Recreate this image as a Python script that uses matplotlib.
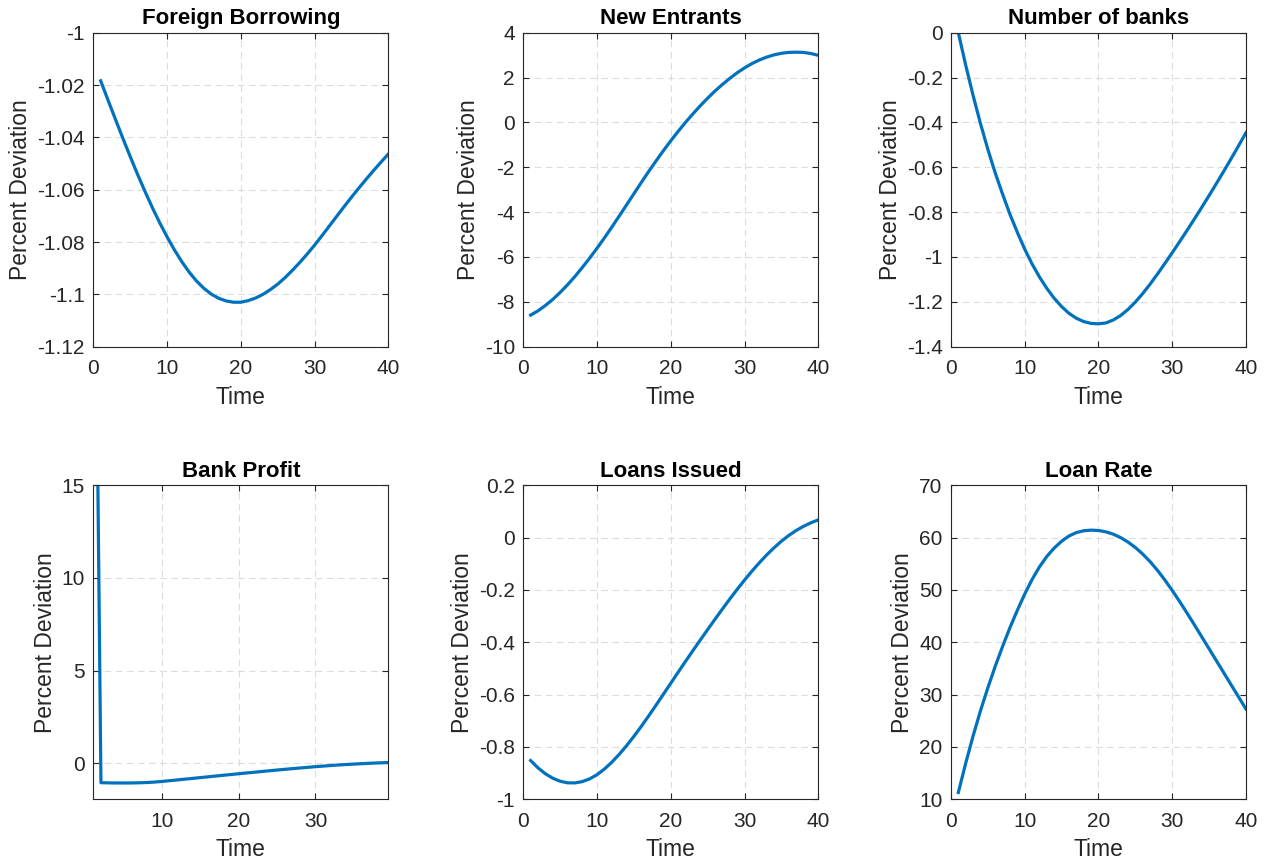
import matplotlib
matplotlib.use("Agg")
import matplotlib.pyplot as plt
from matplotlib.ticker import FuncFormatter, FixedLocator
import numpy as np

t = np.arange(1, 41)

foreign_borrowing = [
    -1.0184, -1.0258, -1.0331, -1.0403, -1.0473, -1.0541, -1.0606, -1.0668, -1.0726, -1.0780,
    -1.0830, -1.0875, -1.0915, -1.0949, -1.0977, -1.0999, -1.1015, -1.1025, -1.1030, -1.1030,
    -1.1024, -1.1014, -1.1000, -1.0982, -1.0961, -1.0936, -1.0908, -1.0878, -1.0846, -1.0812,
    -1.0776, -1.0739, -1.0702, -1.0665, -1.0629, -1.0594, -1.0560, -1.0527, -1.0495, -1.0464]

new_entrants = [
    -8.59, -8.40, -8.16, -7.89, -7.58, -7.24, -6.87, -6.47, -6.05, -5.61,
    -5.15, -4.67, -4.18, -3.68, -3.18, -2.68, -2.19, -1.72, -1.26, -0.82,
    -0.40, 0.00, 0.38, 0.74, 1.08, 1.40, 1.69, 1.96, 2.21, 2.43,
    2.62, 2.78, 2.91, 3.01, 3.08, 3.12, 3.13, 3.12, 3.07, 2.99]

number_of_banks = [
    0.000, -0.145, -0.280, -0.405, -0.520, -0.625, -0.720, -0.810, -0.890, -0.965,
    -1.031, -1.089, -1.140, -1.184, -1.221, -1.251, -1.273, -1.288, -1.296, -1.298,
    -1.294, -1.281, -1.261, -1.234, -1.201, -1.163, -1.121, -1.076, -1.029, -0.981,
    -0.932, -0.882, -0.831, -0.779, -0.726, -0.672, -0.617, -0.561, -0.504, -0.446]

bank_profit = [
    39.0, -1.055, -1.065, -1.070, -1.070, -1.068, -1.060, -1.045, -1.020, -0.985,
    -0.945, -0.903, -0.861, -0.820, -0.778, -0.737, -0.695, -0.653, -0.612, -0.570,
    -0.530, -0.490, -0.450, -0.410, -0.370, -0.333, -0.296, -0.260, -0.225, -0.190,
    -0.158, -0.128, -0.100, -0.074, -0.050, -0.028, -0.008, 0.010, 0.026, 0.040]

loans_issued = [
    -0.852, -0.880, -0.9025, -0.9195, -0.931, -0.937, -0.9375, -0.9325, -0.922, -0.906,
    -0.8845, -0.8585, -0.8285, -0.7955, -0.7595, -0.7215, -0.6815, -0.6405, -0.5985, -0.5565,
    -0.5145, -0.473, -0.432, -0.3915, -0.3515, -0.312, -0.273, -0.235, -0.198, -0.1625,
    -0.1285, -0.0965, -0.0665, -0.039, -0.014, 0.008, 0.027, 0.043, 0.0565, 0.0675]

loan_rate = [
    11.3, 16.9, 22.1, 26.9, 31.3, 35.4, 39.2, 42.8, 46.1, 49.2,
    52.0, 54.4, 56.4, 58.0, 59.3, 60.3, 60.95, 61.3, 61.42, 61.35,
    61.1, 60.65, 60.0, 59.15, 58.1, 56.85, 55.4, 53.75, 51.9, 49.9,
    47.8, 45.6, 43.35, 41.05, 38.75, 36.45, 34.15, 31.85, 29.55, 27.25]

titles = ["Foreign Borrowing", "New Entrants", "Number of banks",
          "Bank Profit", "Loans Issued", "Loan Rate"]
series = [foreign_borrowing, new_entrants, number_of_banks,
          bank_profit, loans_issued, loan_rate]
ylims = [(-1.12, -1.0), (-10, 4), (-1.4, 0), (-1.95, 15), (-1.0, 0.2), (10, 70)]
yticks = [np.arange(-1.12, -0.99, 0.02), np.arange(-10, 5, 2), np.arange(-1.4, 0.01, 0.2),
          [0, 5, 10, 15], np.arange(-1.0, 0.21, 0.2), np.arange(10, 71, 10)]
xlims = [(0, 40)] * 3 + [(1, 39.5), (0, 40), (0, 40)]
xticks = [[0, 10, 20, 30, 40]] * 3 + [[10, 20, 30], [0, 10, 20, 30, 40], [0, 10, 20, 30, 40]]

plt.rcParams['font.family'] = ['Liberation Sans', 'DejaVu Sans']

fig = plt.figure(figsize=(12.71, 8.64), dpi=100)
lefts = [0.0734, 0.4117, 0.7482]
bottoms = [0.5987, 0.0749]
w, h = 0.2321, 0.3635

gray = '#262626'
fmt = FuncFormatter(lambda v, p: '%g' % (round(v, 6) + 0.0))

for i in range(6):
    r, c = divmod(i, 3)
    ax = fig.add_axes([lefts[c], bottoms[r], w, h])
    ax.plot(t, series[i], color='#0072BD', lw=2.3)
    ax.set_xlim(*xlims[i])
    ax.set_ylim(*ylims[i])
    ax.xaxis.set_major_locator(FixedLocator(xticks[i]))
    ax.yaxis.set_major_locator(FixedLocator(yticks[i]))
    ax.yaxis.set_major_formatter(fmt)
    ax.grid(True, ls=(0, (6, 4)), color='#dcdcdc', lw=0.8)
    ax.tick_params(direction='in', top=True, right=True, length=4, width=0.8,
                   labelsize=15, colors=gray)
    ax.tick_params(axis='x', pad=9)
    ax.tick_params(axis='y', pad=6)
    for s in ax.spines.values():
        s.set_color(gray)
        s.set_linewidth(0.8)
    ax.set_title(titles[i], fontsize=16, fontweight='bold', color='black', pad=6)
    ax.set_xlabel('Time', fontsize=16.5, color=gray, labelpad=5.5)
    ax.set_ylabel('Percent Deviation', fontsize=16.5, color=gray, labelpad=3.5)

fig.savefig('out.png', dpi=100)
